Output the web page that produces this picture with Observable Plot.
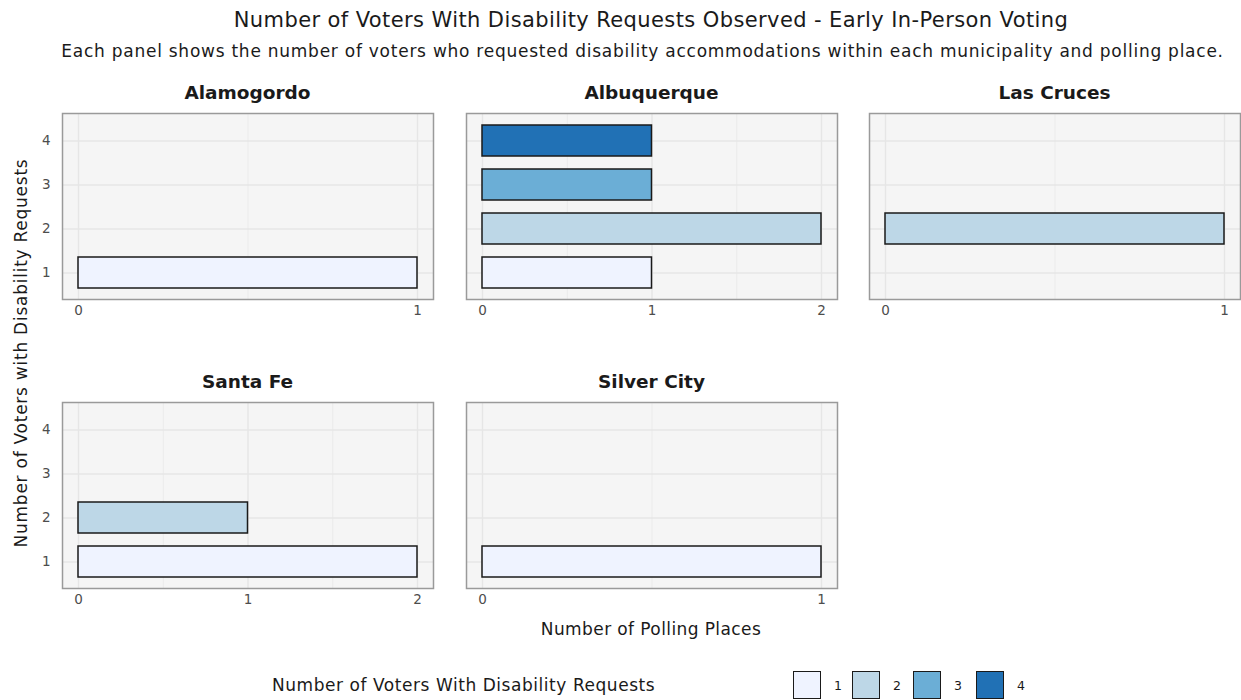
<!DOCTYPE html>
<html>
<head>
<meta charset="utf-8">
<script src="https://cdn.jsdelivr.net/npm/d3@7"></script>
<script src="https://cdn.jsdelivr.net/npm/@observablehq/plot@0.6"></script>
<style>
  html, body { margin: 0; padding: 0; background: #fff; }
  body { font-family: "DejaVu Sans", "Noto Sans", sans-serif; color: #1a1a1a; }
  #root { position: relative; width: 1241px; height: 700px; overflow: hidden; }
  .abs { position: absolute; white-space: nowrap; }
  .strip { font-weight: 700; font-size: 18.5px; line-height: 18.5px; text-align: center; color: #1a1a1a; }
</style>
</head>
<body>
<div id="root"></div>
<script>
// ---- Data ----
const municipalities = ["Alamogordo", "Albuquerque", "Las Cruces", "Santa Fe", "Silver City"];
const requestLevels = [1, 2, 3, 4];
const levelColors = ["#eff3ff", "#bdd7e7", "#6baed6", "#2171b5"];
// bars: municipality, number of voters with disability requests, number of polling places
const barMunicipality = ["Alamogordo", "Albuquerque", "Albuquerque", "Albuquerque", "Albuquerque", "Las Cruces", "Santa Fe", "Santa Fe", "Silver City"];
const barRequests     = [1,            1,             2,             3,             4,             2,            1,          2,          1];
const barPlaces       = [1,            1,             2,             1,             1,             1,            2,          1,          1];

const titleText = "Number of Voters With Disability Requests Observed - Early In-Person Voting";
const subtitleText = "Each panel shows the number of voters who requested disability accommodations within each municipality and polling place.";
const xTitle = "Number of Polling Places";
const yTitle = "Number of Voters with Disability Requests";
const legendTitle = "Number of Voters With Disability Requests";

const rows = barMunicipality.map((m, i) => ({municipality: m, requests: barRequests[i], places: barPlaces[i]}));

// ---- Layout ----
const FONT = "'DejaVu Sans', 'Noto Sans', sans-serif";
const root = document.getElementById("root");
const colLeft = [62, 466, 869];
const rowTop = [113, 402];
const panelW = 371, panelH = 186;
const mL = 40, mB = 30;

function addText(txt, x, y, css) {
  const d = document.createElement("div");
  d.className = "abs";
  d.textContent = txt;
  d.style.left = x + "px";
  d.style.top = y + "px";
  Object.assign(d.style, css || {});
  root.appendChild(d);
  return d;
}

// title / subtitle
addText(titleText, 0, 10, {width: "1302px", textAlign: "center", fontSize: "21px", lineHeight: "21px", letterSpacing: "0.4px", color: "#1a1a1a"});
addText(subtitleText, 0, 42.5, {width: "1285px", textAlign: "center", fontSize: "17px", lineHeight: "17px", letterSpacing: "0.75px", color: "#1a1a1a"});

municipalities.forEach((m, idx) => {
  const col = idx % 3, row = Math.floor(idx / 3);
  const data = rows.filter(d => d.municipality === m);
  const xMax = d3.max(data, d => d.places);
  const majorTicks = d3.range(0, xMax + 1);
  const minorTicks = d3.range(0.5, xMax, 1);
  const isLeft = col === 0;
  const marks = [
    Plot.frame({fill: "#f5f5f5", stroke: null}),
    Plot.gridX(minorTicks, {stroke: "#e9e9e9", strokeOpacity: 1, strokeWidth: 0.8}),
    Plot.gridX(majorTicks, {stroke: "#e6e6e6", strokeOpacity: 1, strokeWidth: 1.4}),
    Plot.gridY(requestLevels, {stroke: "#e6e6e6", strokeOpacity: 1, strokeWidth: 1.4}),
    Plot.barX(data, {x: "places", y: "requests", fill: "requests", stroke: "#1a1a1a", strokeWidth: 1.5}),
    Plot.frame({stroke: "#9a9a9a", strokeWidth: 1.5}),
    Plot.axisX(majorTicks, {tickSize: 0, tickPadding: 6, tickFormat: d3.format("d"), label: null, fill: "#4d4d4d"})
  ];
  if (isLeft) marks.push(Plot.axisY({tickSize: 0, tickPadding: 12, label: null, fill: "#4d4d4d"}));
  const svg = Plot.plot({
    width: panelW + mL,
    height: panelH + mB,
    marginLeft: mL, marginRight: 0, marginTop: 0, marginBottom: mB,
    style: {fontFamily: FONT, fontSize: "13.5px", color: "#4d4d4d", background: "transparent", overflow: "visible"},
    x: {domain: [0, xMax], insetLeft: 16, insetRight: 16, axis: null},
    y: {type: "band", domain: requestLevels.slice().reverse(), paddingInner: 0.3, paddingOuter: 0.25, axis: null},
    color: {type: "ordinal", domain: requestLevels, range: levelColors},
    marks
  });
  svg.style.position = "absolute";
  svg.style.left = (colLeft[col] - mL) + "px";
  svg.style.top = rowTop[row] + "px";
  root.appendChild(svg);
  const s = addText(m, colLeft[col], rowTop[row] - 29.5, {width: panelW + "px"});
  s.classList.add("strip");
});

// axis titles
addText(xTitle, 0, 620.5, {width: "1302px", textAlign: "center", fontSize: "17px", lineHeight: "17px", letterSpacing: "0.4px", color: "#1a1a1a"});
addText(yTitle, 21, 353, {fontSize: "17px", lineHeight: "17px", letterSpacing: "0.75px", color: "#1a1a1a", transform: "translate(-50%, -50%) rotate(-90deg)"});

// legend
addText(legendTitle, 272, 677, {fontSize: "17px", lineHeight: "17px", letterSpacing: "0.55px", color: "#1a1a1a"});
const swX = [793, 852, 913, 976];
requestLevels.forEach((lv, i) => {
  const sw = document.createElement("div");
  sw.className = "abs";
  Object.assign(sw.style, {left: swX[i] + "px", top: "671px", width: "28px", height: "28px", background: levelColors[i], border: "1.5px solid #1a1a1a", boxSizing: "border-box"});
  root.appendChild(sw);
  addText(String(lv), swX[i] + 41, 680, {fontSize: "12.5px", lineHeight: "12.5px", color: "#1a1a1a"});
});
</script>
</body>
</html>
